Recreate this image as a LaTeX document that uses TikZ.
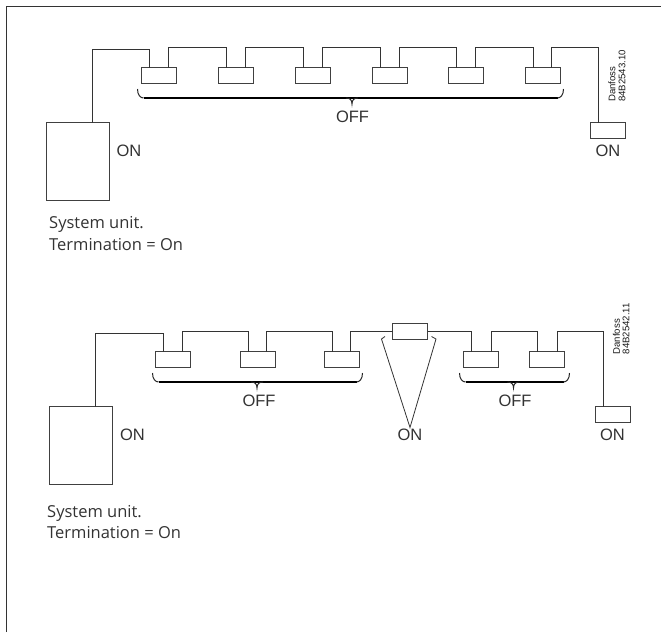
\documentclass[tikz,border=0pt]{standalone}
\usepackage{fontspec}
\setmainfont{Liberation Sans}
\newfontfamily\notefont{Open Sans}
\tikzset{
    wire/.style={line width=1pt, draw=black!80},
    unitbox/.style={draw=black!75, line width=1pt, minimum width=63pt, minimum height=78pt, inner sep=0pt, outer sep=0pt},
    slavebox/.style={draw=black!75, line width=1pt, minimum width=35pt, minimum height=16pt, inner sep=0pt, outer sep=0pt},
    bracebar/.style={line width=1.6pt, black},
    bracehook/.style={line width=1pt, black!85},
    stateLabel/.style={inner sep=0pt, font=\fontsize{16.5}{17}\selectfont, text=black!80},
    noteLabel/.style={inner sep=0pt, anchor=base west, font=\notefont\fontsize{16.5}{17}\selectfont, text=black!80},
    codeLabel/.style={inner sep=0pt, rotate=90, anchor=west, font=\fontsize{9.6}{10}\selectfont, text=black!90}
}
\newcommand{\offbrace}[3]{%
    \draw [bracebar] ([shift={(6,9)}]#1) -- ([shift={(-6,9)}]#3);
    \draw [bracehook] (#1) .. controls +(0,6) and +(-3,0) .. ([shift={(6,9)}]#1);
    \draw [bracehook] (#3) .. controls +(0,6) and +(3,0) .. ([shift={(-6,9)}]#3);
    \draw [bracehook] ([shift={(-6,-6)}]#2) .. controls +(4,0) and +(0,-4) .. (#2) .. controls +(0,-4) and +(-4,0) .. ([shift={(6,-6)}]#2);
}
\begin{document}
\begin{tikzpicture}[x=1pt, y=-1pt]
    \useasboundingbox (0,0) rectangle (661,632);
    \coordinate (FL) at (6.5,632);
    \coordinate (FC) at (6.5,6.5);
    \coordinate (FR) at (661,6.5);
    \draw [line width=1.5pt, black!80] (FL) -- (FC) -- (FR);
    % upper bus
    \node [unitbox] (U1) at (78,161.5) {};
    \node [slavebox] (A1) at (159,75.5) {};
    \node [slavebox] (A2) at (236,75.5) {};
    \node [slavebox] (A3) at (313,75.5) {};
    \node [slavebox] (A4) at (390,75.5) {};
    \node [slavebox] (A5) at (466,75.5) {};
    \node [slavebox] (A6) at (543,75.5) {};
    \node [slavebox] (A7) at (608,130.5) {};
    \draw [wire] ([xshift=14.5pt]U1.north) |- (92.5,49.5) -| ([xshift=-9.5pt]A1.north);
    \draw [wire] ([xshift=9.5pt]A1.north) -- ++(0,-20) -| ([xshift=-9.5pt]A2.north);
    \draw [wire] ([xshift=9.5pt]A2.north) -- ++(0,-20) -| ([xshift=-9.5pt]A3.north);
    \draw [wire] ([xshift=9.5pt]A3.north) -- ++(0,-20) -| ([xshift=-9.5pt]A4.north);
    \draw [wire] ([xshift=9.5pt]A4.north) -- ++(0,-20) -| ([xshift=-9.5pt]A5.north);
    \draw [wire] ([xshift=9.5pt]A5.north) -- ++(0,-20) -| ([xshift=-9.5pt]A6.north);
    \draw [wire] ([xshift=8.5pt]A6.north) -- ++(0,-20) -| ([xshift=-9.5pt]A7.north);
    \coordinate (BA) at (137.5,89);
    \coordinate (BT) at (352,104);
    \coordinate (BB) at (563.5,89);
    \offbrace{BA}{BT}{BB}
    \node [stateLabel] (offA) at (352.5,117) {OFF};
    \node [stateLabel] (onA) at (129,151) {ON};
    \node [stateLabel] (onB) at (608,151) {ON};
    \node [noteLabel] (noteA) at (49,228) {System unit.};
    \node [noteLabel] (noteB) at (49,250.5) {Termination = On};
    \node [codeLabel] (codeA) at (612,102) {Danfoss};
    \node [codeLabel] (codeB) at (622,102) {84B2543.10};
    % lower bus
    \node [unitbox] (U2) at (81,445.5) {};
    \node [slavebox] (C1) at (173,359.5) {};
    \node [slavebox] (C2) at (258,359.5) {};
    \node [slavebox] (C3) at (342,359.5) {};
    \node [slavebox] (C4) at (410,331.5) {};
    \node [slavebox] (C5) at (481,359.5) {};
    \node [slavebox] (C6) at (547,359.5) {};
    \node [slavebox] (C7) at (613,414.5) {};
    \draw [wire] ([xshift=14.5pt]U2.north) |- (95.5,333.5) -| ([xshift=-9.5pt]C1.north);
    \draw [wire] ([xshift=9.5pt]C1.north) -- ++(0,-20) -| ([xshift=-9.5pt]C2.north);
    \draw [wire] ([xshift=8.5pt]C2.north) -- ++(0,-20) -| ([xshift=-9.5pt]C3.north);
    \draw [wire] ([xshift=8.5pt]C3.north) |- (C4.west);
    \draw [wire] (C4.east) -| ([xshift=-9.5pt]C5.north);
    \draw [wire] ([xshift=10.5pt]C5.north) -- ++(0,-20) -| ([xshift=-9.5pt]C6.north);
    \draw [wire] ([xshift=10.5pt]C6.north) -- ++(0,-20) -| ([xshift=-9.5pt]C7.north);
    \coordinate (BC) at (152.5,373);
    \coordinate (BU) at (257,388);
    \coordinate (BD) at (362.5,373);
    \coordinate (BE) at (459.5,373);
    \coordinate (BV) at (513.5,388);
    \coordinate (BF) at (569.5,373);
    \offbrace{BC}{BU}{BD}
    \offbrace{BE}{BV}{BF}
    \node [stateLabel] (offB) at (259,401) {OFF};
    \node [stateLabel] (offC) at (515,401) {OFF};
    \coordinate (VA) at (385,336.5);
    \coordinate (VB) at (381.5,339);
    \coordinate (VC) at (410,427.5);
    \coordinate (VD) at (436,339);
    \coordinate (VE) at (431.5,336.5);
    \draw [line width=0.8pt, black!80] (VA) -- (VB) -- (VC) -- (VD) -- (VE);
    \node [stateLabel] (onC) at (410,435) {ON};
    \node [stateLabel] (onD) at (132.5,435) {ON};
    \node [stateLabel] (onE) at (612.5,435) {ON};
    \node [noteLabel] (noteC) at (47,517) {System unit.};
    \node [noteLabel] (noteD) at (47,538.5) {Termination = On};
    \node [codeLabel] (codeC) at (616.5,354.5) {Danfoss};
    \node [codeLabel] (codeD) at (626,354.5) {84B2542.11};
\end{tikzpicture}
\end{document}
